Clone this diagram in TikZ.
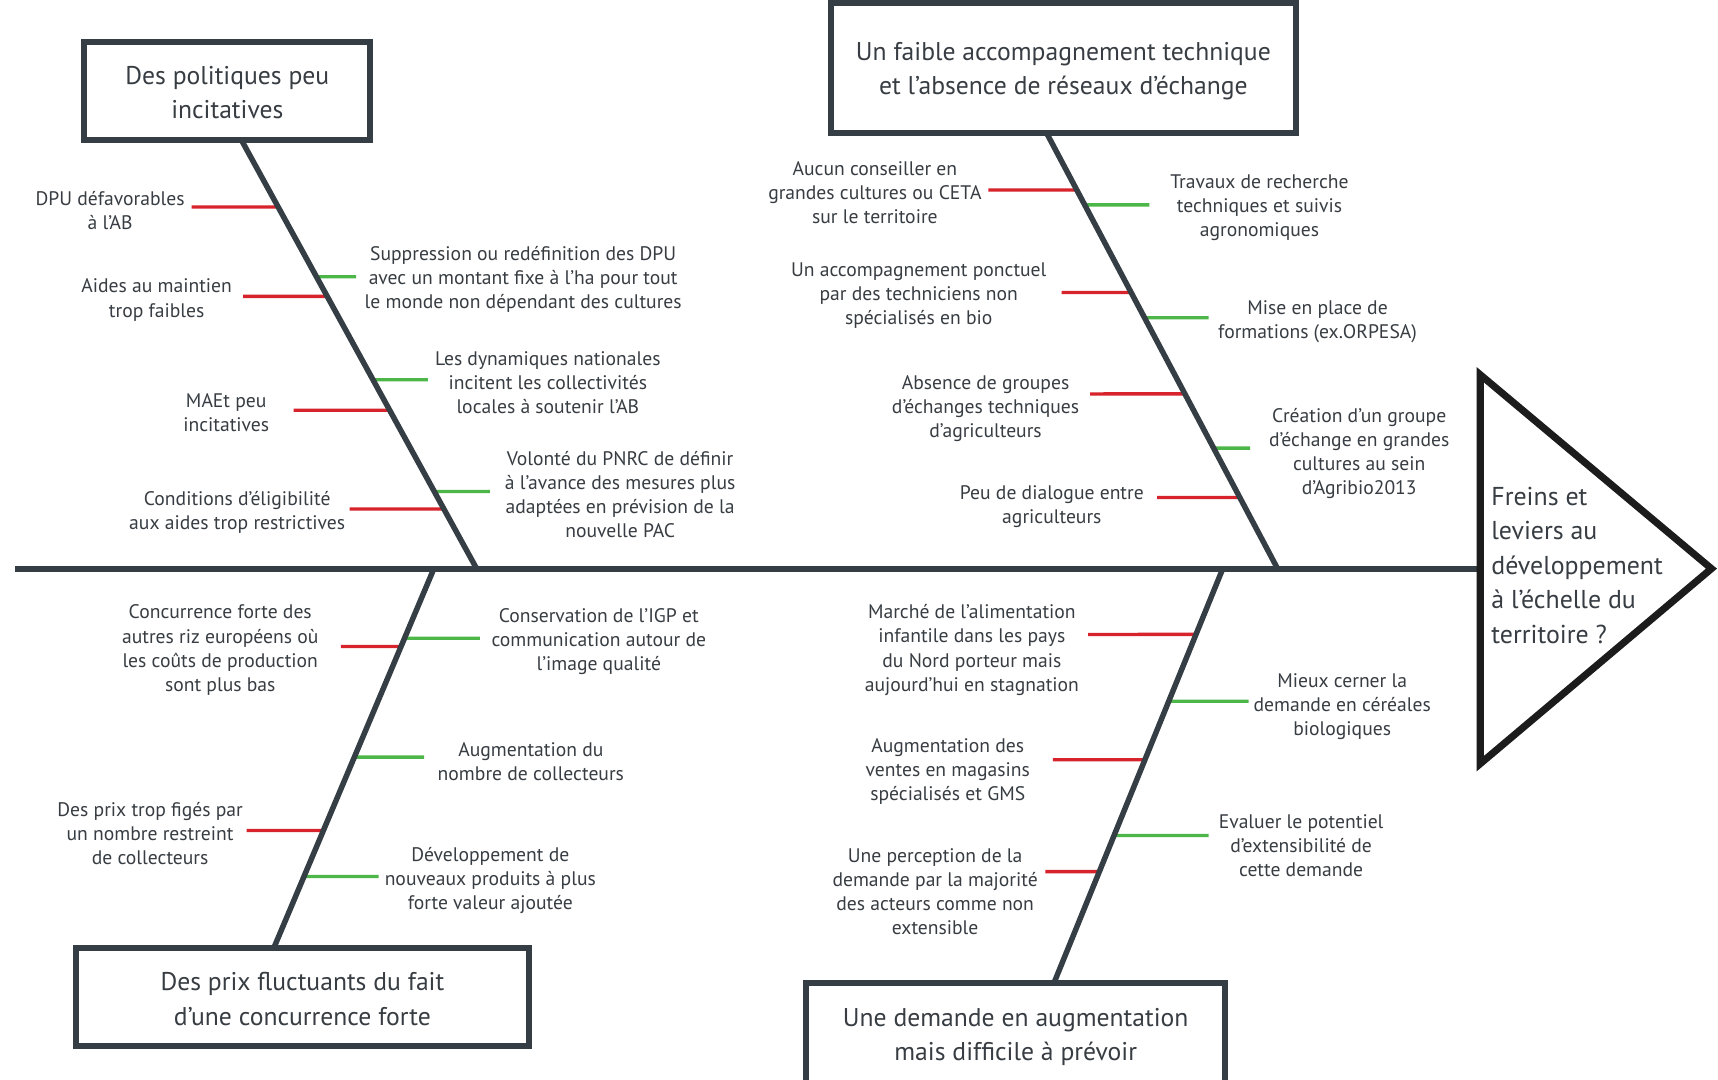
\documentclass[tikz,border=0pt]{standalone}
\usepackage{fontspec}
\setmainfont{PT Sans}
\usetikzlibrary{calc}
\definecolor{slate}{RGB}{52,62,68}
\definecolor{txt}{RGB}{55,61,66}
\definecolor{brred}{RGB}{214,35,44}
\definecolor{brgreen}{RGB}{76,183,72}
\definecolor{tri}{RGB}{28,28,28}
\begin{document}
\begin{tikzpicture}[x=1pt,y=-1pt,
  bone/.style={draw=slate,line width=5pt},
  spine/.style={draw=slate,line width=5.5pt},
  redbr/.style={draw=brred,line width=3pt},
  greenbr/.style={draw=brgreen,line width=3pt},
  catbox/.style={draw=slate,line width=5.5pt,fill=white,inner sep=0pt},
  cattxt/.style={inner sep=0pt,align=center,text=txt,font=\fontsize{23.4}{31.5}\selectfont},
  lbl/.style={inner sep=0pt,align=center,text=txt,yshift=-1.8pt,font=\fontsize{17.9}{22}\selectfont},
]
\useasboundingbox (0,0) rectangle (1568,985);
\fill[white] (0,0) rectangle (1568,985);

% bone end points
\coordinate (b1s) at (221,129);  \coordinate (b1e) at (435,519);
\coordinate (b2s) at (955,121);  \coordinate (b2e) at (1166,519);
\coordinate (b3s) at (396,519);  \coordinate (b3e) at (250,865);
\coordinate (b4s) at (1116,519); \coordinate (b4e) at (962,897);
\coordinate (tail) at (14,519);
\coordinate (head) at (1351,519);

% branch labels
\node[lbl] (t11) at (100.5,190.5) {DPU défavorables\\à l’AB};
\node[lbl] (t12) at (143,272) {Aides au maintien\\trop faibles};
\node[lbl] (t13) at (206.5,375) {MAEt peu\\incitatives};
\node[lbl] (t14) at (216.5,466) {Conditions d’éligibilité\\aux aides trop restrictives};
\node[lbl] (t15) at (477.5,253.5) {Suppression ou redéfinition des DPU\\avec un montant fixe à l’ha pour tout\\le monde non dépendant des cultures};
\node[lbl] (t16) at (500,347.5) {Les dynamiques nationales\\incitent les collectivités\\locales à soutenir l’AB};
\node[lbl] (t17) at (566,449.5) {Volonté du PNRC de définir\\à l’avance des mesures plus\\adaptées en prévision de la\\nouvelle PAC};

\node[lbl] (t21) at (798.5,174) {Aucun conseiller en\\grandes cultures ou CETA\\sur le territoire};
\node[lbl] (t22) at (838.5,268) {Un accompagnement ponctuel\\par des techniciens non\\spécialisés en bio};
\node[lbl] (t23) at (899.5,371) {Absence de groupes\\d’échanges techniques\\d’agriculteurs};
\node[lbl] (t24) at (960,461) {Peu de dialogue entre\\agriculteurs};
\node[lbl] (t25) at (1149.5,188) {Travaux de recherche\\techniques et suivis\\agronomiques};
\node[lbl] (t26) at (1202.5,292) {Mise en place de\\formations (ex.ORPESA)};
\node[lbl] (t27) at (1240.5,412) {Création d’un groupe\\d’échange en grandes\\cultures au sein\\d’Agribio2013};

\node[lbl] (t31) at (201,591.5) {Concurrence forte des\\autres riz européens où\\les coûts de production\\sont plus bas};
\node[lbl] (t32) at (137,759) {Des prix trop figés par\\un nombre restreint\\de collecteurs};
\node[lbl] (t33) at (546.5,583.5) {Conservation de l’IGP et\\communication autour de\\l’image qualité};
\node[lbl] (t34) at (484.5,693) {Augmentation du\\nombre de collecteurs};
\node[lbl] (t35) at (447.5,802) {Développement de\\nouveaux produits à plus\\forte valeur ajoutée};

\node[lbl] (t41) at (887,591.5) {Marché de l’alimentation\\infantile dans les pays\\du Nord porteur mais\\aujourd’hui en stagnation};
\node[lbl] (t42) at (865,702) {Augmentation des\\ventes en magasins\\spécialisés et GMS};
\node[lbl] (t43) at (853.5,812) {Une perception de la\\demande par la majorité\\des acteurs comme non\\extensible};
\node[lbl] (t44) at (1225,643) {Mieux cerner la\\demande en céréales\\biologiques};
\node[lbl] (t45) at (1187.5,770) {Evaluer le potentiel\\d’extensibilité de\\cette demande};

% branches (bone 1)
\draw[redbr] ($(b1s)!0.1538!(b1e)$) -- (175,189) coordinate (r11);
\draw[redbr] ($(b1s)!0.3628!(b1e)$) -- (222,270.5) coordinate (r12);
\draw[redbr] ($(b1s)!0.6295!(b1e)$) -- (268,374.5) coordinate (r13);
\draw[redbr] ($(b1s)!0.8603!(b1e)$) -- (319,464.5) coordinate (r14);
\draw[greenbr] ($(b1s)!0.3167!(b1e)$) -- (325,252.5) coordinate (g11);
\draw[greenbr] ($(b1s)!0.5577!(b1e)$) -- (390.5,346.5) coordinate (g12);
\draw[greenbr] ($(b1s)!0.8192!(b1e)$) -- (447,448.5) coordinate (g13);
% bone 2
\draw[redbr] ($(b2s)!0.1319!(b2e)$) -- (902,173.5) coordinate (r21);
\draw[redbr] ($(b2s)!0.3668!(b2e)$) -- (969,267) coordinate (r22);
\draw[redbr] ($(b2s)!0.5992!(b2e)$) -- (995,359.5) coordinate (r23);
\draw[redbr] ($(b2s)!0.8367!(b2e)$) -- (1056,454) coordinate (r24);
\draw[greenbr] ($(b2s)!0.1658!(b2e)$) -- (1049,187) coordinate (g21);
\draw[greenbr] ($(b2s)!0.4246!(b2e)$) -- (1103,290) coordinate (g22);
\draw[greenbr] ($(b2s)!0.7236!(b2e)$) -- (1141,409) coordinate (g23);
% bone 3
\draw[redbr] ($(b3s)!0.2052!(b3e)$) -- (311,590) coordinate (r31);
\draw[redbr] ($(b3s)!0.6908!(b3e)$) -- (225,758) coordinate (r32);
\draw[greenbr] ($(b3s)!0.1835!(b3e)$) -- (438,582.5) coordinate (g31);
\draw[greenbr] ($(b3s)!0.4971!(b3e)$) -- (387,691) coordinate (g32);
\draw[greenbr] ($(b3s)!0.8121!(b3e)$) -- (345.5,800) coordinate (g33);
% bone 4
\draw[redbr] ($(b4s)!0.1587!(b4e)$) -- (993,579) coordinate (r41);
\draw[redbr] ($(b4s)!0.4616!(b4e)$) -- (961,693.5) coordinate (r42);
\draw[redbr] ($(b4s)!0.7315!(b4e)$) -- (954,795.5) coordinate (r43);
\draw[greenbr] ($(b4s)!0.3201!(b4e)$) -- (1139.5,640) coordinate (g41);
\draw[greenbr] ($(b4s)!0.6442!(b4e)$) -- (1103,762.5) coordinate (g42);

% bones and spine
\draw[bone] (b1s) -- (b1e);
\draw[bone] (b2s) -- (b2e);
\draw[bone] (b3s) -- (b3e);
\draw[bone] (b4s) -- (b4e);
\draw[spine] (tail) -- (head);

% category boxes
\node[catbox,minimum width=261pt,minimum height=90pt] (box1) at (207.5,83) {};
\node[cattxt] (box1t) at (207.5,84.5) {Des politiques peu\\incitatives};
\node[catbox,minimum width=425pt,minimum height=118pt] (box2) at (970.5,62) {};
\node[cattxt] (box2t) at (970.5,65) {Un faible accompagnement technique\\et l’absence de réseaux d’échange};
\node[catbox,minimum width=414pt,minimum height=90pt] (box3) at (276,910) {};
\node[cattxt] (box3t) at (276,912) {Des prix fluctuants du fait\\d’une concurrence forte};
\node[catbox,minimum width=382.5pt,minimum height=93pt] (box4) at (927,943.5) {};
\node[cattxt] (box4t) at (927,946.5) {Une demande en augmentation\\mais difficile à prévoir};

% head triangle
\draw[draw=tri,line width=6.5pt,line join=miter,fill=white] (1351,342) -- (1562,519) -- (1351,697) -- cycle;
\node[anchor=west,inner sep=0pt,align=left,text=txt,font=\fontsize{23.6}{31.5}\selectfont] (goal) at (1361,516) {Freins et\\leviers au\\développement\\à l’échelle du\\territoire ?};
\end{tikzpicture}
\end{document}
